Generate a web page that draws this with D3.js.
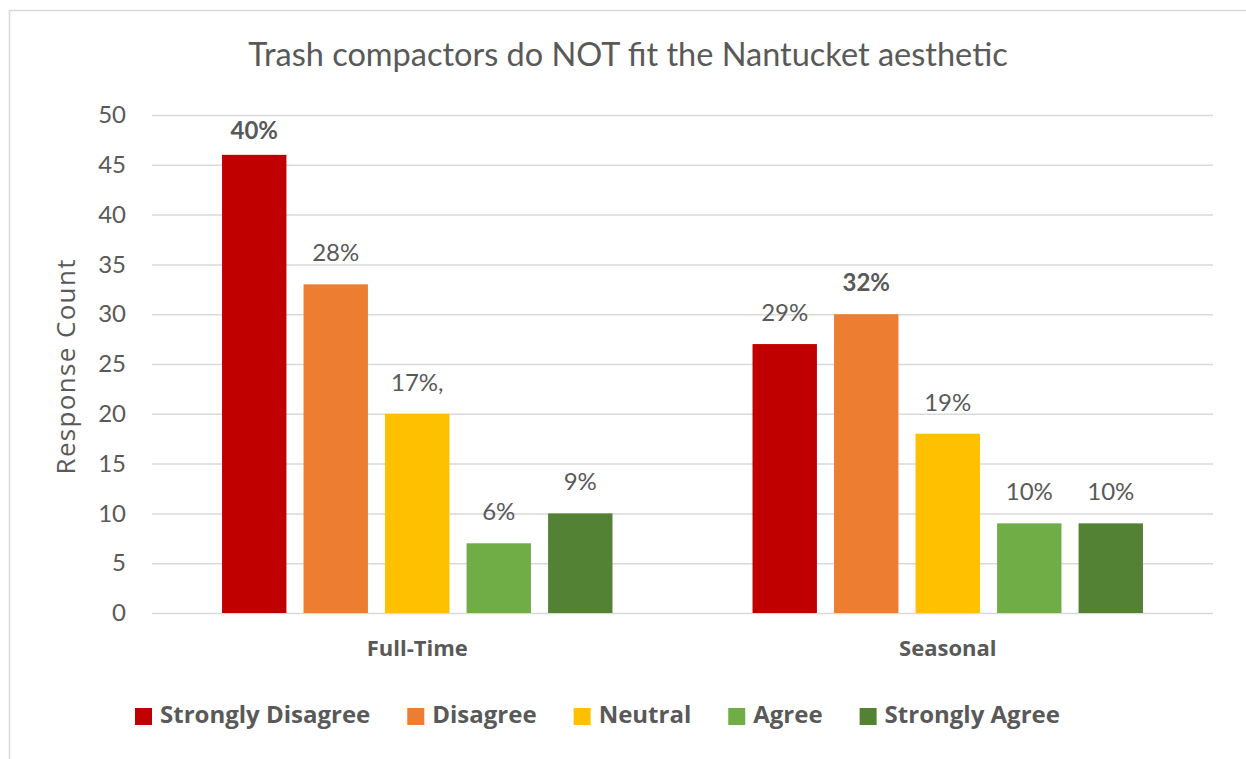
<!DOCTYPE html>
<html>
<head>
<meta charset="utf-8">
<script src="https://cdn.jsdelivr.net/npm/d3@7"></script>
<style>
  body { margin: 0; background: #fff; }
  text { font-family: Lato, 'Open Sans', sans-serif; fill: #595959; }
</style>
</head>
<body>
<svg width="1246" height="759"></svg>
<script>
const categories = ['Full-Time', 'Seasonal'];
const responses = ['Strongly Disagree', 'Disagree', 'Neutral', 'Agree', 'Strongly Agree'];
const fullTimeCounts = [46, 33, 20, 7, 10];
const seasonalCounts = [27, 30, 18, 9, 9];
const fullTimeLabels = ['40%', '28%', '17%,', '6%', '9%'];
const seasonalLabels = ['29%', '32%', '19%', '10%', '10%'];
const boldLabels = ['40%', '32%'];
const yTicks = [0, 5, 10, 15, 20, 25, 30, 35, 40, 45, 50];
const colors = ['#C00000', '#ED7D31', '#FFC000', '#70AD47', '#548235'];

const svg = d3.select('svg');
const MARGIN = { TOP: 115, RIGHT: 33, BOTTOM: 146, LEFT: 152 };
const WIDTH = +svg.attr('width') - MARGIN.LEFT - MARGIN.RIGHT;
const HEIGHT = +svg.attr('height') - MARGIN.TOP - MARGIN.BOTTOM;

// chart frame
svg.append('rect')
  .attr('x', 9.5).attr('y', 10.5)
  .attr('width', 1300).attr('height', 800)
  .attr('fill', 'none')
  .attr('stroke', '#d9d9d9')
  .attr('stroke-width', 1.5);

svg.append('text')
  .attr('x', 628)
  .attr('y', 66)
  .attr('text-anchor', 'middle')
  .style('font-size', '32.5px')
  .text('Trash compactors do NOT fit the Nantucket aesthetic');

const g = svg.append('g')
  .attr('transform', `translate(${MARGIN.LEFT}, ${MARGIN.TOP})`);

const data = categories.map((c, i) => ({
  category: c,
  values: responses.map((r, j) => ({
    key: r,
    value: i === 0 ? fullTimeCounts[j] : seasonalCounts[j],
    label: i === 0 ? fullTimeLabels[j] : seasonalLabels[j]
  }))
}));

// scales
const x0 = d3.scaleBand()
  .domain(categories)
  .range([0, WIDTH])
  .paddingInner(0.264)
  .paddingOuter(0.132);
const x1 = d3.scaleBand()
  .domain(responses)
  .range([0, x0.bandwidth()])
  .paddingInner(0.21);
const y = d3.scaleLinear().domain([0, 50]).range([HEIGHT, 0]);
const z = d3.scaleOrdinal().domain(responses).range(colors);

// gridlines
g.append('g')
  .attr('class', 'grid')
  .call(d3.axisLeft(y).tickValues(yTicks).tickSize(-WIDTH).tickFormat(''))
  .call(a => a.select('.domain').remove())
  .call(a => a.selectAll('line').attr('stroke', '#d9d9d9').attr('stroke-width', 1.5));

// y axis labels
g.append('g')
  .call(d3.axisLeft(y).tickValues(yTicks).tickSize(0).tickPadding(26))
  .call(a => a.select('.domain').remove())
  .call(a => a.selectAll('text')
    .style('font-size', '24px')
    .style('font-family', 'Lato, sans-serif')
    .attr('fill', '#595959'));

svg.append('text')
  .attr('transform', 'translate(75, 367) rotate(-90)')
  .attr('text-anchor', 'middle')
  .attr('textLength', 215)
  .attr('lengthAdjust', 'spacing')
  .style('font-family', "'Open Sans', sans-serif")
  .style('font-size', '26px')
  .text('Response Count');

const group = g.selectAll('.group')
  .data(data)
  .enter()
  .append('g')
  .attr('class', 'group')
  .attr('transform', d => `translate(${x0(d.category)}, 0)`);

group.selectAll('rect')
  .data(d => d.values)
  .enter()
  .append('rect')
  .attr('x', d => x1(d.key))
  .attr('y', d => y(d.value))
  .attr('width', x1.bandwidth())
  .attr('height', d => HEIGHT - y(d.value))
  .attr('fill', d => z(d.key));

// value labels, kept inside the plot area
group.selectAll('.lbl')
  .data(d => d.values)
  .enter()
  .append('text')
  .attr('class', 'lbl')
  .attr('x', d => x1(d.key) + x1.bandwidth() / 2)
  .attr('y', d => Math.max(y(d.value) - 23, y(50) + 24))
  .attr('text-anchor', 'middle')
  .style('font-size', '24px')
  .style('font-weight', d => boldLabels.includes(d.label) ? 'bold' : 'normal')
  .text(d => d.label);

// category labels
g.append('g')
  .attr('transform', `translate(0, ${HEIGHT})`)
  .call(d3.axisBottom(x0).tickSize(0).tickPadding(27))
  .call(a => a.select('.domain').remove())
  .call(a => a.selectAll('text')
    .style('font-size', '22px')
    .style('font-weight', 'bold')
    .style('font-family', "'Open Sans', sans-serif")
    .attr('fill', '#595959'));

// legend
const legend = svg.append('g').attr('transform', 'translate(135, 0)');
let lx = 0;
responses.forEach((r, i) => {
  const item = legend.append('g').attr('transform', `translate(${lx}, 0)`);
  item.append('rect')
    .attr('x', 0).attr('y', 708)
    .attr('width', 17).attr('height', 17)
    .attr('fill', colors[i]);
  const t = item.append('text')
    .attr('x', 25).attr('y', 723)
    .style('font-family', "'Open Sans', sans-serif")
    .style('font-size', '24px')
    .style('font-weight', 'bold')
    .text(r);
  lx += 25 + t.node().getComputedTextLength() + 37;
});
</script>
</body>
</html>
